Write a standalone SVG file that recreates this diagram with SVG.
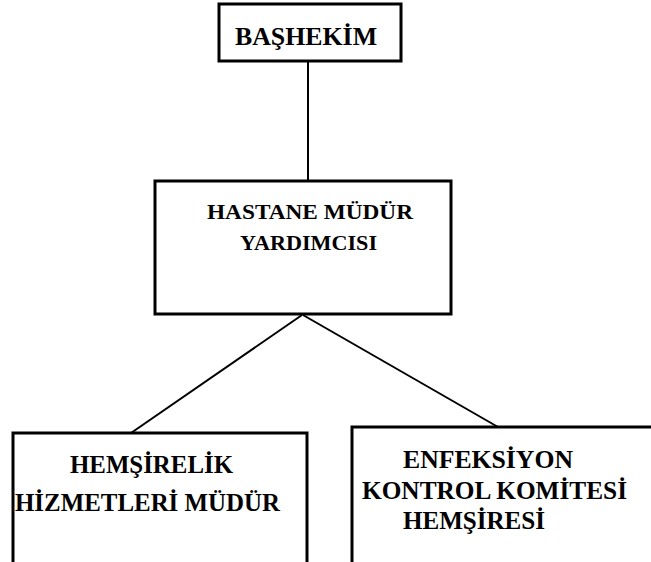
<svg xmlns="http://www.w3.org/2000/svg" width="651" height="562" viewBox="0 0 651 562">
<style>
.box{fill:#fff;stroke:#000;stroke-width:3}
.ln{stroke:#000;stroke-width:2;fill:none}
.t{font-family:"Liberation Serif","Times New Roman",serif;font-weight:bold;fill:#000}
.big{font-size:26px}
.mid{font-size:21px}
</style>
<rect width="651" height="562" fill="#fff"/>
<g id="connectors">
<line class="ln" x1="308" y1="61" x2="308" y2="181"/>
<line class="ln" x1="302" y1="315" x2="131" y2="433"/>
<line class="ln" x1="303" y1="315" x2="498" y2="427"/>
</g>
<g id="bashekim">
<rect class="box" x="219" y="4" width="182" height="57"/>
<text class="t big" x="235" y="45" textLength="142" lengthAdjust="spacingAndGlyphs">BAŞHEKİM</text>
</g>
<g id="mudur-yardimcisi">
<rect class="box" x="155" y="181" width="296" height="133"/>
<text class="t mid" x="207" y="219" textLength="206" lengthAdjust="spacingAndGlyphs">HASTANE MÜDÜR</text>
<text class="t mid" x="240" y="250" textLength="137" lengthAdjust="spacingAndGlyphs">YARDIMCISI</text>
</g>
<g id="hemsirelik">
<rect class="box" x="13" y="433" width="294" height="140"/>
<text class="t big" x="70" y="473" textLength="163" lengthAdjust="spacingAndGlyphs">HEMŞİRELİK</text>
<text class="t big" x="15" y="511" textLength="265" lengthAdjust="spacingAndGlyphs">HİZMETLERİ MÜDÜR</text>
</g>
<g id="enfeksiyon">
<rect class="box" x="352" y="427" width="310" height="146"/>
<text class="t big" x="403" y="468" textLength="170" lengthAdjust="spacingAndGlyphs">ENFEKSİYON</text>
<text class="t big" x="362" y="499" textLength="265" lengthAdjust="spacingAndGlyphs">KONTROL KOMİTESİ</text>
<text class="t big" x="403" y="529" textLength="142" lengthAdjust="spacingAndGlyphs">HEMŞİRESİ</text>
</g>
</svg>
